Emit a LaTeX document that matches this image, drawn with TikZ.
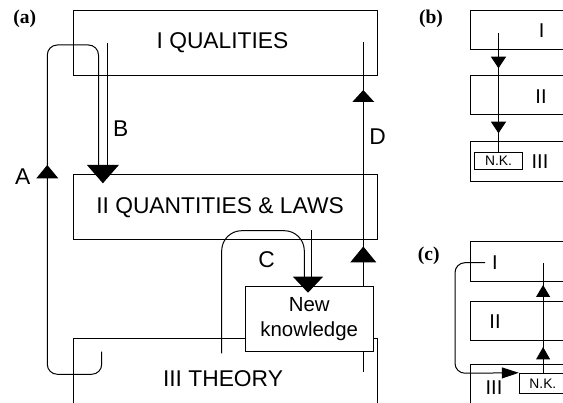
\documentclass[tikz,border=0pt]{standalone}
\usepackage{fontspec}
\setmainfont{Liberation Sans}
\newfontfamily\panelfont{Liberation Serif}
\usetikzlibrary{arrows.meta}
\begin{document}
\begin{tikzpicture}[x=1pt,y=-1pt,line width=1pt,
  box/.style={draw,rectangle,inner sep=0pt,line width=1pt},
  whitebox/.style={box,fill=white},
  big/.style={font=\fontsize{22.8}{26}\selectfont,inner sep=0pt},
  mid/.style={font=\fontsize{20.4}{25}\selectfont,inner sep=0pt,align=center},
  roman/.style={font=\fontsize{20}{24}\selectfont,inner sep=0pt},
  nk/.style={font=\fontsize{13.8}{16}\selectfont,inner sep=0pt},
  panel/.style={font=\panelfont\bfseries\fontsize{19.5}{22}\selectfont,inner sep=0pt},
  head/.style n args={2}{-{Triangle[width=#1,length=#2]}},
]
\useasboundingbox (0,0) rectangle (563,403);
\clip (0,0) rectangle (563,403);

% ---------- panel (a) ----------
\node[panel] (pa) at (24.7,18.5) {(a)};
\node[box,minimum width=304pt,minimum height=65pt] (I) at (225,43.5) {};
\node[box,minimum width=304pt,minimum height=65pt] (II) at (225,207.5) {};
\node[box,minimum width=304pt,minimum height=91pt] (III) at (225,384.5) {};

% line D
\coordinate (Dbot) at (363.3,372);
\coordinate (Dtop) at (363.3,42);
\draw (Dbot) -- (Dtop);

% line A (feeding B)
\coordinate (Astart) at (101.7,351.7);
\coordinate (Aend) at (98.5,171);
\draw[rounded corners=10pt] (Astart) -- (101.7,374.3) -- (47.3,374.3)
  -- (47.3,45) -- (98.5,45) -- (Aend);
% line B
\coordinate (Btop) at (107.3,43.3);
\coordinate (Bend) at (107.3,171);
\draw (Btop) -- (Bend);

% line C
\coordinate (Cstart) at (221.7,353.3);
\coordinate (Cend) at (304.3,282);
\draw[rounded corners=20pt] (Cstart) -- (221.7,230.7) -- (304.3,230.7) -- (Cend);
\coordinate (C2top) at (311.7,230);
\coordinate (C2end) at (311.7,282);
\draw (C2top) -- (C2end);

% new knowledge box
\node[whitebox,minimum width=128.3pt,minimum height=65pt] (NK) at (309.15,319.2) {};
\node[mid] (NKt) at (309.2,319.5) {New\\knowledge};

% arrowheads (a)
\draw[head={31.7pt}{18.3pt}] (102.9,165) -- (102.9,183.3);
\draw[head={21.7pt}{13.3pt}] (47.3,178.3) -- (47.3,165);
\draw[head={30pt}{16pt}] (308,276.7) -- (308,292.7);
\draw[head={21.7pt}{12pt}] (363.3,102) -- (363.3,90);
\draw[head={26pt}{16pt}] (363.3,262.5) -- (363.3,246.5);

% texts (a)
\node[big] (tI) at (222.5,43) {I QUALITIES};
\node[big] (tII) at (220,207.5) {II QUANTITIES \& LAWS};
\node[big] (tIII) at (223,378.5) {III THEORY};
\node[big] (lA) at (22.7,177) {A};
\node[big] (lB) at (120.7,128.5) {B};
\node[big] (lC) at (266.7,259.5) {C};
\node[big] (lD) at (377.7,137) {D};

% ---------- panel (b) ----------
\node[panel] (pb) at (431,18.8) {(b)};
\node[box,minimum width=129.3pt,minimum height=39.3pt] (bI) at (535.35,30.35) {};
\node[box,minimum width=129.3pt,minimum height=39pt] (bII) at (535.35,95.5) {};
\node[box,minimum width=129.3pt,minimum height=40pt] (bIII) at (535.35,161.7) {};
\node[box,minimum width=47.6pt,minimum height=17.7pt] (bNK) at (498.5,161.15) {};
\node[nk] at (bNK.center) {N.K.};
\coordinate (bTop) at (498.5,33.3);
\draw (bTop) -- (bNK.north);
\draw[head={15pt}{11.6pt}] (498.5,56.7) -- (498.5,68.3);
\draw[head={15pt}{11.6pt}] (498.5,121.7) -- (498.5,133.3);
\node[roman] (btI) at (541.7,30.7) {I};
\node[roman] (btII) at (541,96.5) {II};
\node[roman] (btIII) at (540,161.7) {III};

% ---------- panel (c) ----------
\node[panel] (pc) at (428.7,255.8) {(c)};
\node[box,minimum width=129.3pt,minimum height=39.5pt] (cI) at (535.35,261.75) {};
\node[box,minimum width=129.3pt,minimum height=38.6pt] (cII) at (535.35,321) {};
\node[box,minimum width=129.3pt,minimum height=65.5pt] (cIII) at (535.35,397.25) {};
\node[box,minimum width=47.6pt,minimum height=20pt] (cNK) at (543.1,383.3) {};
\node[nk] at (542.9,383.3) {N.K.};
\coordinate (cTop) at (543.1,263.3);
\draw (cNK.north) -- (cTop);
\draw[head={14pt}{12pt}] (543.1,297) -- (543.1,285);
\draw[head={14pt}{12.5pt}] (543.1,359.5) -- (543.1,347);
\coordinate (cStart) at (485,262.7);
\draw[rounded corners=10pt,head={11pt}{17pt}] (cStart) -- (455,262.7) -- (455,373.3) -- (cNK.north west);
\node[roman] (ctI) at (495,263) {I};
\node[roman] (ctII) at (495,322) {II};
\node[roman] (ctIII) at (494,388) {III};
\end{tikzpicture}
\end{document}
